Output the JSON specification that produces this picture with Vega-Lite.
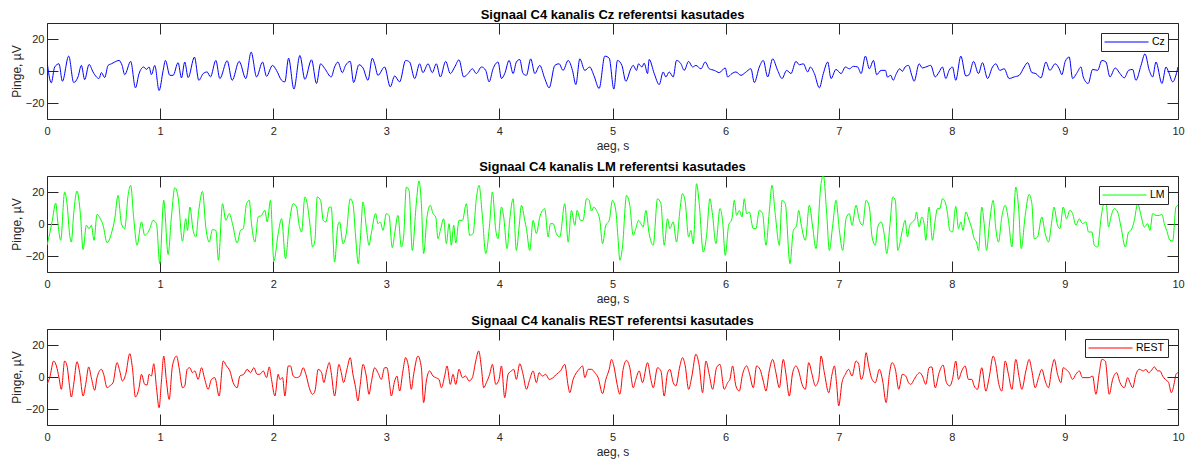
{
"$schema": "https://vega.github.io/schema/vega-lite/v6.json",
"padding": {"left": 9, "top": 8, "right": 5, "bottom": 5},
"datasets": {
"cz": [
{"t":0,"v":6.2},{"t":0.038,"v":-7.4},{"t":0.068,"v":2.5},{"t":0.106,"v":4.5},{"t":0.136,"v":-6.4},{"t":0.192,"v":9.3},{"t":0.236,"v":-7.2},{"t":0.274,"v":-3.7},{"t":0.304,"v":3.5},{"t":0.333,"v":-5.4},{"t":0.372,"v":4.1},{"t":0.407,"v":-0.6},{"t":0.437,"v":-3.7},{"t":0.46,"v":-4.7},{"t":0.481,"v":-1},{"t":0.51,"v":-4.1},{"t":0.54,"v":3.5},{"t":0.569,"v":4.5},{"t":0.599,"v":5.6},{"t":0.637,"v":6.6},{"t":0.664,"v":3.5},{"t":0.687,"v":-2.3},{"t":0.74,"v":6},{"t":0.782,"v":-10.5},{"t":0.814,"v":-1.6},{"t":0.855,"v":2.5},{"t":0.879,"v":1},{"t":0.903,"v":2.5},{"t":0.923,"v":-2.3},{"t":0.953,"v":3.5},{"t":0.991,"v":-12.2},
{"t":1.027,"v":0.4},{"t":1.047,"v":6.6},{"t":1.086,"v":-2.7},{"t":1.115,"v":-2.7},{"t":1.159,"v":5.2},{"t":1.189,"v":-4.3},{"t":1.218,"v":5.6},{"t":1.248,"v":-4.1},{"t":1.304,"v":8.7},{"t":1.342,"v":-5.8},{"t":1.381,"v":-1.6},{"t":1.416,"v":-0.6},{"t":1.445,"v":-3.7},{"t":1.493,"v":6.6},{"t":1.528,"v":-4.7},{"t":1.593,"v":6.4},{"t":1.637,"v":-5.8},{"t":1.699,"v":6},{"t":1.758,"v":-4.7},{"t":1.805,"v":11.8},{"t":1.853,"v":-3.7},{"t":1.906,"v":5.6},{"t":1.941,"v":-3.3},{"t":1.994,"v":3.5},
{"t":2.029,"v":0.4},{"t":2.074,"v":-5.8},{"t":2.103,"v":-6.8},{"t":2.136,"v":8},{"t":2.183,"v":-11.3},{"t":2.236,"v":9.7},{"t":2.28,"v":-5.2},{"t":2.339,"v":7},{"t":2.383,"v":-7.8},{"t":2.419,"v":4.5},{"t":2.457,"v":1.4},{"t":2.513,"v":-3.7},{"t":2.543,"v":2.5},{"t":2.572,"v":5.6},{"t":2.611,"v":-1},{"t":2.64,"v":3.5},{"t":2.681,"v":6},{"t":2.711,"v":-7.2},{"t":2.758,"v":3.9},{"t":2.794,"v":1.9},{"t":2.838,"v":-5.8},{"t":2.876,"v":8},{"t":2.897,"v":4.5},{"t":2.926,"v":-2.7},{"t":2.985,"v":2.5},
{"t":3.035,"v":-9.9},{"t":3.074,"v":-3.1},{"t":3.118,"v":-6.8},{"t":3.171,"v":6.6},{"t":3.206,"v":5.6},{"t":3.251,"v":-4.7},{"t":3.295,"v":4.5},{"t":3.324,"v":-1},{"t":3.369,"v":4.5},{"t":3.407,"v":-1},{"t":3.442,"v":4.5},{"t":3.478,"v":-3.7},{"t":3.525,"v":6},{"t":3.566,"v":-1.6},{"t":3.605,"v":2.5},{"t":3.643,"v":7},{"t":3.684,"v":-3.7},{"t":3.723,"v":-1.6},{"t":3.761,"v":1.4},{"t":3.796,"v":-1.6},{"t":3.841,"v":2.5},{"t":3.879,"v":0.4},{"t":3.909,"v":-6.8},{"t":3.944,"v":1.4},{"t":3.988,"v":5.6},
{"t":4.018,"v":-4.7},{"t":4.047,"v":-1.6},{"t":4.086,"v":6.6},{"t":4.121,"v":-1.6},{"t":4.15,"v":5.6},{"t":4.18,"v":7.2},{"t":4.209,"v":-1.6},{"t":4.239,"v":-2.7},{"t":4.277,"v":7.6},{"t":4.313,"v":-1.6},{"t":4.357,"v":3.5},{"t":4.401,"v":-4.7},{"t":4.44,"v":-10.5},{"t":4.49,"v":3.5},{"t":4.528,"v":4.5},{"t":4.563,"v":0.4},{"t":4.608,"v":6.6},{"t":4.646,"v":0.4},{"t":4.676,"v":-8.5},{"t":4.711,"v":7.6},{"t":4.755,"v":0.4},{"t":4.799,"v":2.5},{"t":4.835,"v":-2.7},{"t":4.882,"v":-10.9},{"t":4.932,"v":9.3},{"t":4.971,"v":8},
{"t":5.012,"v":-11.3},{"t":5.044,"v":6.6},{"t":5.083,"v":3.5},{"t":5.118,"v":-6.4},{"t":5.162,"v":1.4},{"t":5.183,"v":3.5},{"t":5.212,"v":0.4},{"t":5.23,"v":4.5},{"t":5.26,"v":2.5},{"t":5.28,"v":4.9},{"t":5.31,"v":-1.6},{"t":5.324,"v":7.2},{"t":5.369,"v":-1.6},{"t":5.413,"v":-8.5},{"t":5.448,"v":-0.6},{"t":5.472,"v":-3.7},{"t":5.501,"v":-0.6},{"t":5.537,"v":-3.7},{"t":5.566,"v":6.6},{"t":5.605,"v":4.5},{"t":5.634,"v":0.4},{"t":5.673,"v":6},{"t":5.708,"v":2.5},{"t":5.737,"v":3.5},{"t":5.782,"v":1.4},{"t":5.82,"v":5.6},{"t":5.855,"v":1.4},{"t":5.9,"v":0.4},{"t":5.944,"v":-1},{"t":5.997,"v":1.9},
{"t":6.018,"v":-3.7},{"t":6.056,"v":-1.6},{"t":6.091,"v":-0.6},{"t":6.136,"v":-2.7},{"t":6.174,"v":-1},{"t":6.224,"v":1.4},{"t":6.254,"v":-7.2},{"t":6.298,"v":2.5},{"t":6.333,"v":6.6},{"t":6.372,"v":-3.7},{"t":6.416,"v":7.6},{"t":6.46,"v":0.4},{"t":6.499,"v":-4.7},{"t":6.54,"v":0.4},{"t":6.578,"v":-1.6},{"t":6.622,"v":6},{"t":6.652,"v":3.9},{"t":6.687,"v":4.5},{"t":6.726,"v":-0.6},{"t":6.749,"v":2.5},{"t":6.785,"v":-1.6},{"t":6.829,"v":-10.5},{"t":6.864,"v":-1.6},{"t":6.903,"v":5.6},{"t":6.932,"v":-4.7},{"t":6.976,"v":1},
{"t":7.021,"v":-1.6},{"t":7.059,"v":2.5},{"t":7.094,"v":1.4},{"t":7.13,"v":2.9},{"t":7.168,"v":2.5},{"t":7.198,"v":-1.6},{"t":7.236,"v":9.3},{"t":7.271,"v":1.4},{"t":7.307,"v":6.6},{"t":7.336,"v":-2.3},{"t":7.375,"v":0.4},{"t":7.413,"v":0.4},{"t":7.431,"v":-3.8},{"t":7.46,"v":-2.7},{"t":7.481,"v":-5.8},{"t":7.51,"v":-1.6},{"t":7.54,"v":1.4},{"t":7.563,"v":-0.2},{"t":7.587,"v":2.5},{"t":7.617,"v":3.5},{"t":7.646,"v":-2.7},{"t":7.667,"v":-6.4},{"t":7.711,"v":4.5},{"t":7.74,"v":1.9},{"t":7.77,"v":2.5},{"t":7.814,"v":3.5},{"t":7.853,"v":-3.7},{"t":7.888,"v":-0.6},{"t":7.917,"v":2.5},{"t":7.947,"v":-4.7},{"t":7.976,"v":0.4},
{"t":8.006,"v":2.5},{"t":8.035,"v":-5.8},{"t":8.08,"v":9.3},{"t":8.124,"v":-3.1},{"t":8.153,"v":-2.3},{"t":8.192,"v":6},{"t":8.236,"v":-1.6},{"t":8.271,"v":5.2},{"t":8.316,"v":-4.7},{"t":8.36,"v":2.5},{"t":8.389,"v":4.5},{"t":8.425,"v":0.4},{"t":8.463,"v":1.4},{"t":8.507,"v":-4.7},{"t":8.552,"v":-3.7},{"t":8.596,"v":-2.7},{"t":8.64,"v":2.5},{"t":8.67,"v":5.2},{"t":8.708,"v":-1},{"t":8.743,"v":-1.6},{"t":8.788,"v":-4.3},{"t":8.832,"v":5.6},{"t":8.867,"v":0.4},{"t":8.914,"v":4.5},{"t":8.95,"v":1.4},{"t":8.973,"v":-2.3},
{"t":9.003,"v":6},{"t":9.038,"v":8.7},{"t":9.068,"v":-4.7},{"t":9.103,"v":-1.6},{"t":9.142,"v":2.5},{"t":9.162,"v":-3.7},{"t":9.206,"v":-7.8},{"t":9.245,"v":1},{"t":9.289,"v":0.4},{"t":9.327,"v":6.6},{"t":9.363,"v":5.6},{"t":9.398,"v":-3.7},{"t":9.445,"v":1.9},{"t":9.487,"v":-1.6},{"t":9.525,"v":-4.3},{"t":9.563,"v":0.4},{"t":9.599,"v":1},{"t":9.628,"v":-5.8},{"t":9.673,"v":3.5},{"t":9.708,"v":10.7},{"t":9.746,"v":0.4},{"t":9.776,"v":-3.7},{"t":9.805,"v":5.6},{"t":9.858,"v":-7.8},{"t":9.894,"v":2.5},{"t":9.917,"v":-0.6},{"t":9.953,"v":-6.8},{"t":10,"v":2.5}
],
"lm": [
{"t":0,"v":-13.3},{"t":0.024,"v":-6},{"t":0.047,"v":2.3},{"t":0.077,"v":13.1},{"t":0.097,"v":0.2},{"t":0.121,"v":-10.2},{"t":0.156,"v":20},{"t":0.177,"v":12.7},{"t":0.201,"v":-7.1},{"t":0.215,"v":-11.3},{"t":0.236,"v":6.5},{"t":0.265,"v":20.6},{"t":0.295,"v":6.5},{"t":0.319,"v":-16},{"t":0.348,"v":-0.8},{"t":0.372,"v":-2.9},{"t":0.392,"v":-0.8},{"t":0.416,"v":-10.2},{"t":0.442,"v":6},{"t":0.472,"v":3.3},{"t":0.496,"v":-0.8},{"t":0.531,"v":-11.7},{"t":0.569,"v":-6},{"t":0.599,"v":3.3},{"t":0.628,"v":17.9},{"t":0.658,"v":0.2},{"t":0.687,"v":-2.9},{"t":0.717,"v":17.9},{"t":0.74,"v":24.2},{"t":0.767,"v":3.3},{"t":0.796,"v":-13.3},{"t":0.835,"v":1.3},{"t":0.864,"v":-7.1},{"t":0.885,"v":-6},{"t":0.909,"v":-2.9},{"t":0.938,"v":2.3},{"t":0.968,"v":0.2},{"t":0.997,"v":-24.8},
{"t":1.032,"v":14.8},{"t":1.071,"v":-19},{"t":1.1,"v":4.4},{"t":1.13,"v":22.7},{"t":1.159,"v":16.9},{"t":1.198,"v":-10.8},{"t":1.227,"v":3.3},{"t":1.242,"v":-4},{"t":1.263,"v":10.6},{"t":1.292,"v":-4},{"t":1.316,"v":-8.1},{"t":1.342,"v":8.5},{"t":1.375,"v":20.4},{"t":1.404,"v":-1.9},{"t":1.434,"v":-11.3},{"t":1.463,"v":-3.5},{"t":1.493,"v":-4},{"t":1.516,"v":-22.7},{"t":1.552,"v":12.7},{"t":1.581,"v":2.3},{"t":1.611,"v":6.5},{"t":1.64,"v":0.2},{"t":1.681,"v":-11.9},{"t":1.711,"v":-4},{"t":1.735,"v":-2.9},{"t":1.764,"v":12.7},{"t":1.788,"v":14.8},{"t":1.808,"v":0.2},{"t":1.838,"v":-11.3},{"t":1.867,"v":4.4},{"t":1.897,"v":5.4},{"t":1.926,"v":8.5},{"t":1.947,"v":1.3},{"t":1.976,"v":14.8},
{"t":2.006,"v":-23.1},{"t":2.044,"v":-6},{"t":2.074,"v":3.3},{"t":2.109,"v":-21.7},{"t":2.142,"v":0.2},{"t":2.177,"v":12.7},{"t":2.206,"v":10.6},{"t":2.23,"v":-0.8},{"t":2.251,"v":-5},{"t":2.28,"v":16.9},{"t":2.301,"v":12.7},{"t":2.324,"v":0.2},{"t":2.348,"v":-14.4},{"t":2.369,"v":-10.2},{"t":2.389,"v":16.9},{"t":2.419,"v":14.8},{"t":2.442,"v":2.3},{"t":2.466,"v":1.3},{"t":2.496,"v":10.6},{"t":2.513,"v":10.6},{"t":2.543,"v":-23.8},{"t":2.572,"v":-0.8},{"t":2.587,"v":1.3},{"t":2.617,"v":-12.3},{"t":2.646,"v":-6},{"t":2.681,"v":15.8},{"t":2.705,"v":12.7},{"t":2.729,"v":-8.1},{"t":2.752,"v":-24.8},{"t":2.77,"v":-10.2},{"t":2.794,"v":13.8},{"t":2.823,"v":-1.9},{"t":2.847,"v":-13.3},{"t":2.867,"v":-6},{"t":2.906,"v":6.5},{"t":2.926,"v":0.2},{"t":2.947,"v":1.3},{"t":2.971,"v":-4},
{"t":3,"v":6.5},{"t":3.024,"v":5.4},{"t":3.053,"v":-14.8},{"t":3.074,"v":-6},{"t":3.103,"v":5.4},{"t":3.133,"v":-14.4},{"t":3.153,"v":-8.1},{"t":3.177,"v":23.1},{"t":3.201,"v":21},{"t":3.23,"v":-16.5},{"t":3.265,"v":12.7},{"t":3.289,"v":26.9},{"t":3.31,"v":12.7},{"t":3.33,"v":-18.5},{"t":3.36,"v":4.4},{"t":3.389,"v":11.7},{"t":3.413,"v":6.5},{"t":3.437,"v":4.4},{"t":3.457,"v":-9.2},{"t":3.478,"v":-4},{"t":3.507,"v":3.3},{"t":3.531,"v":-12.3},{"t":3.555,"v":0.2},{"t":3.575,"v":-13.3},{"t":3.596,"v":-0.8},{"t":3.614,"v":-11.9},{"t":3.643,"v":2.3},{"t":3.673,"v":2.3},{"t":3.708,"v":12.7},{"t":3.737,"v":-7.1},{"t":3.767,"v":-6},{"t":3.796,"v":15.8},{"t":3.82,"v":24.2},{"t":3.85,"v":4.4},{"t":3.879,"v":-18.5},{"t":3.914,"v":0.2},{"t":3.938,"v":20},{"t":3.968,"v":-4},{"t":3.988,"v":-9.2},
{"t":4.018,"v":10.6},{"t":4.038,"v":4.4},{"t":4.068,"v":-15.4},{"t":4.091,"v":2.3},{"t":4.121,"v":15.8},{"t":4.15,"v":-16.5},{"t":4.174,"v":-1.9},{"t":4.195,"v":11.7},{"t":4.224,"v":2.3},{"t":4.239,"v":-2.9},{"t":4.268,"v":-16.5},{"t":4.298,"v":2.3},{"t":4.327,"v":-6},{"t":4.357,"v":4.4},{"t":4.401,"v":9.6},{"t":4.431,"v":-8.1},{"t":4.451,"v":0.2},{"t":4.475,"v":0.2},{"t":4.504,"v":-6},{"t":4.534,"v":-8.1},{"t":4.578,"v":12.7},{"t":4.608,"v":-11.3},{"t":4.637,"v":8.5},{"t":4.667,"v":-0.8},{"t":4.687,"v":8.5},{"t":4.717,"v":2.3},{"t":4.74,"v":2.3},{"t":4.77,"v":15.8},{"t":4.794,"v":14.8},{"t":4.814,"v":8.1},{"t":4.835,"v":10.6},{"t":4.858,"v":8.5},{"t":4.888,"v":2.3},{"t":4.912,"v":-12.3},{"t":4.941,"v":-0.8},{"t":4.971,"v":2.3},
{"t":5,"v":14.8},{"t":5.029,"v":8.5},{"t":5.05,"v":-10.2},{"t":5.065,"v":-22.7},{"t":5.088,"v":-14.4},{"t":5.124,"v":17.9},{"t":5.153,"v":11.7},{"t":5.183,"v":-7.1},{"t":5.206,"v":-2.9},{"t":5.23,"v":2.3},{"t":5.251,"v":0.2},{"t":5.271,"v":-1.9},{"t":5.295,"v":8.5},{"t":5.324,"v":-6},{"t":5.36,"v":-13.3},{"t":5.398,"v":15.8},{"t":5.428,"v":12.7},{"t":5.457,"v":-13.3},{"t":5.487,"v":3.3},{"t":5.507,"v":-2.9},{"t":5.537,"v":1.3},{"t":5.566,"v":-11.3},{"t":5.596,"v":8.5},{"t":5.619,"v":19},{"t":5.643,"v":13.8},{"t":5.673,"v":-8.1},{"t":5.693,"v":-4},{"t":5.714,"v":-12.3},{"t":5.743,"v":25.2},{"t":5.767,"v":12.7},{"t":5.802,"v":-17.5},{"t":5.832,"v":-7.1},{"t":5.861,"v":15.8},{"t":5.885,"v":5.4},{"t":5.914,"v":-12.3},{"t":5.95,"v":9.6},{"t":5.973,"v":2.3},{"t":5.997,"v":-19.6},
{"t":6.027,"v":-0.8},{"t":6.056,"v":3.3},{"t":6.077,"v":14.8},{"t":6.097,"v":5.4},{"t":6.121,"v":8.5},{"t":6.145,"v":4.4},{"t":6.165,"v":15.8},{"t":6.186,"v":6.5},{"t":6.209,"v":7.5},{"t":6.245,"v":-2.9},{"t":6.268,"v":-2.9},{"t":6.298,"v":8.5},{"t":6.327,"v":6.5},{"t":6.357,"v":-13.3},{"t":6.386,"v":7.5},{"t":6.41,"v":24.2},{"t":6.44,"v":5.4},{"t":6.475,"v":-13.3},{"t":6.499,"v":14.8},{"t":6.528,"v":12.7},{"t":6.569,"v":-24.8},{"t":6.599,"v":-4},{"t":6.628,"v":-0.8},{"t":6.646,"v":8.5},{"t":6.667,"v":0.2},{"t":6.705,"v":-10.2},{"t":6.74,"v":11.7},{"t":6.77,"v":-1.9},{"t":6.799,"v":-15.4},{"t":6.844,"v":25.2},{"t":6.864,"v":30.4},{"t":6.894,"v":6.5},{"t":6.917,"v":-16.5},{"t":6.947,"v":-0.8},{"t":6.976,"v":14.8},
{"t":7.006,"v":-4},{"t":7.035,"v":-16.5},{"t":7.065,"v":3.3},{"t":7.094,"v":6.5},{"t":7.118,"v":-0.8},{"t":7.153,"v":11.7},{"t":7.183,"v":2.3},{"t":7.212,"v":-0.8},{"t":7.242,"v":14.8},{"t":7.271,"v":10.6},{"t":7.295,"v":-8.1},{"t":7.324,"v":-13.3},{"t":7.345,"v":-1.9},{"t":7.375,"v":1.3},{"t":7.404,"v":-7.1},{"t":7.425,"v":-18.5},{"t":7.454,"v":0.2},{"t":7.478,"v":16.9},{"t":7.501,"v":14.8},{"t":7.522,"v":-16.5},{"t":7.563,"v":-4},{"t":7.587,"v":2.3},{"t":7.608,"v":-8.1},{"t":7.628,"v":-0.8},{"t":7.652,"v":1.3},{"t":7.676,"v":3.3},{"t":7.687,"v":7.5},{"t":7.711,"v":-1.9},{"t":7.735,"v":4.4},{"t":7.755,"v":0.2},{"t":7.77,"v":-10.2},{"t":7.799,"v":10.6},{"t":7.829,"v":-10.2},{"t":7.853,"v":2.3},{"t":7.873,"v":9.6},{"t":7.894,"v":9.6},{"t":7.917,"v":15.8},{"t":7.941,"v":13.8},{"t":7.962,"v":6.5},{"t":7.982,"v":-4},
{"t":8.006,"v":-5},{"t":8.035,"v":11},{"t":8.059,"v":-2.9},{"t":8.08,"v":1.3},{"t":8.1,"v":-4},{"t":8.124,"v":7.5},{"t":8.153,"v":2.3},{"t":8.177,"v":-2.9},{"t":8.198,"v":-9.2},{"t":8.218,"v":-11.3},{"t":8.236,"v":-16.5},{"t":8.265,"v":10.6},{"t":8.286,"v":0.2},{"t":8.307,"v":-16.5},{"t":8.336,"v":2.3},{"t":8.366,"v":14.8},{"t":8.389,"v":-2.9},{"t":8.413,"v":-11.3},{"t":8.442,"v":4.4},{"t":8.472,"v":11.7},{"t":8.501,"v":2.3},{"t":8.531,"v":-14.4},{"t":8.566,"v":23.1},{"t":8.59,"v":10.6},{"t":8.614,"v":-15.4},{"t":8.649,"v":5.4},{"t":8.684,"v":18.5},{"t":8.708,"v":12.7},{"t":8.729,"v":-9.2},{"t":8.758,"v":-8.1},{"t":8.796,"v":4.4},{"t":8.826,"v":-6},{"t":8.855,"v":-11.3},{"t":8.885,"v":2.3},{"t":8.903,"v":10.6},{"t":8.935,"v":-0.8},{"t":8.956,"v":-2.9},{"t":8.985,"v":10.6},
{"t":9.015,"v":3.3},{"t":9.044,"v":8.5},{"t":9.068,"v":6.5},{"t":9.097,"v":-0.8},{"t":9.127,"v":3.3},{"t":9.156,"v":0.2},{"t":9.186,"v":1.3},{"t":9.209,"v":-5},{"t":9.239,"v":-5},{"t":9.26,"v":-13.3},{"t":9.289,"v":-14.4},{"t":9.319,"v":3.3},{"t":9.339,"v":11.7},{"t":9.363,"v":13.8},{"t":9.386,"v":-1.9},{"t":9.407,"v":4.4},{"t":9.437,"v":9.6},{"t":9.466,"v":7.5},{"t":9.496,"v":-1.9},{"t":9.534,"v":-14.4},{"t":9.563,"v":-5},{"t":9.584,"v":-4},{"t":9.614,"v":2.3},{"t":9.643,"v":12.7},{"t":9.673,"v":5.4},{"t":9.702,"v":-1.9},{"t":9.732,"v":0.2},{"t":9.752,"v":-4},{"t":9.776,"v":6.5},{"t":9.805,"v":5.4},{"t":9.835,"v":5.4},{"t":9.858,"v":6},{"t":9.879,"v":0.2},{"t":9.9,"v":-4},{"t":9.929,"v":-10.2},{"t":9.953,"v":-10.6},{"t":9.982,"v":10.6},{"t":10,"v":11.7}
],
"rest": [
{"t":0,"v":-4.6},{"t":0.024,"v":-0.4},{"t":0.059,"v":10},{"t":0.083,"v":6.9},{"t":0.106,"v":-0.4},{"t":0.127,"v":-7.7},{"t":0.156,"v":10},{"t":0.177,"v":6.9},{"t":0.201,"v":-6.7},{"t":0.215,"v":-12.5},{"t":0.236,"v":-4.6},{"t":0.265,"v":9.6},{"t":0.289,"v":2.7},{"t":0.319,"v":-11.9},{"t":0.342,"v":-4.6},{"t":0.369,"v":6.3},{"t":0.392,"v":-0.4},{"t":0.422,"v":-8.3},{"t":0.442,"v":-0.4},{"t":0.481,"v":4.8},{"t":0.501,"v":1.7},{"t":0.531,"v":-6.7},{"t":0.555,"v":-5.6},{"t":0.584,"v":-3.5},{"t":0.619,"v":9},{"t":0.643,"v":3.8},{"t":0.667,"v":-2.5},{"t":0.696,"v":1.7},{"t":0.732,"v":14.6},{"t":0.755,"v":5.8},{"t":0.782,"v":-12.5},{"t":0.814,"v":-6.7},{"t":0.835,"v":1.7},{"t":0.864,"v":-4.6},{"t":0.885,"v":-5},{"t":0.903,"v":1.7},{"t":0.923,"v":0.6},{"t":0.944,"v":8.3},{"t":0.968,"v":-6.7},{"t":0.991,"v":-19.2},
{"t":1.012,"v":-2.5},{"t":1.032,"v":13.1},{"t":1.056,"v":-2.5},{"t":1.08,"v":-14},{"t":1.109,"v":6.9},{"t":1.145,"v":13.1},{"t":1.168,"v":5.8},{"t":1.198,"v":-6.7},{"t":1.218,"v":-5.6},{"t":1.239,"v":4.8},{"t":1.263,"v":5.8},{"t":1.286,"v":2.7},{"t":1.307,"v":3.8},{"t":1.336,"v":-1.5},{"t":1.366,"v":5.8},{"t":1.395,"v":-1.5},{"t":1.425,"v":-7.7},{"t":1.454,"v":-1.5},{"t":1.484,"v":-0.4},{"t":1.522,"v":-11.9},{"t":1.558,"v":10},{"t":1.587,"v":6.9},{"t":1.617,"v":3.8},{"t":1.646,"v":-3.5},{"t":1.681,"v":-6.7},{"t":1.705,"v":0.6},{"t":1.74,"v":1.7},{"t":1.77,"v":4.8},{"t":1.799,"v":2.7},{"t":1.829,"v":5.8},{"t":1.858,"v":1.7},{"t":1.882,"v":1.7},{"t":1.912,"v":3.8},{"t":1.941,"v":-0.4},{"t":1.965,"v":6.3},{"t":1.985,"v":-1.5},
{"t":2.015,"v":-11.9},{"t":2.044,"v":1.7},{"t":2.059,"v":-1.5},{"t":2.083,"v":-0.4},{"t":2.103,"v":-11.9},{"t":2.133,"v":6.9},{"t":2.153,"v":6.9},{"t":2.177,"v":0.6},{"t":2.206,"v":-0.4},{"t":2.236,"v":0.6},{"t":2.265,"v":5.8},{"t":2.289,"v":1.7},{"t":2.319,"v":-6.7},{"t":2.348,"v":-10.8},{"t":2.369,"v":-8.8},{"t":2.398,"v":4.8},{"t":2.428,"v":2.7},{"t":2.448,"v":-3.5},{"t":2.472,"v":3.8},{"t":2.496,"v":9},{"t":2.513,"v":2.7},{"t":2.543,"v":-11.9},{"t":2.581,"v":7.9},{"t":2.602,"v":2.7},{"t":2.622,"v":-3.5},{"t":2.652,"v":4.8},{"t":2.681,"v":12.1},{"t":2.705,"v":1.7},{"t":2.729,"v":-6.7},{"t":2.749,"v":-15},{"t":2.77,"v":-4.6},{"t":2.794,"v":7.9},{"t":2.823,"v":0.6},{"t":2.847,"v":-10.8},{"t":2.867,"v":-3.5},{"t":2.897,"v":5.8},{"t":2.926,"v":2.7},{"t":2.956,"v":-1.5},{"t":2.985,"v":5.8},
{"t":3.006,"v":5.8},{"t":3.029,"v":-4.6},{"t":3.044,"v":-11.9},{"t":3.074,"v":-2.5},{"t":3.094,"v":0.6},{"t":3.118,"v":-8.8},{"t":3.147,"v":3.8},{"t":3.171,"v":12.1},{"t":3.195,"v":6.9},{"t":3.221,"v":-7.7},{"t":3.242,"v":1.7},{"t":3.28,"v":13.1},{"t":3.31,"v":5.8},{"t":3.33,"v":-16},{"t":3.354,"v":-2.5},{"t":3.383,"v":3.8},{"t":3.413,"v":0.6},{"t":3.437,"v":-0.4},{"t":3.466,"v":-1.5},{"t":3.487,"v":-6.7},{"t":3.516,"v":0.6},{"t":3.537,"v":6.9},{"t":3.566,"v":-4.6},{"t":3.59,"v":1.7},{"t":3.614,"v":-4.6},{"t":3.643,"v":4.8},{"t":3.673,"v":-0.4},{"t":3.702,"v":0.6},{"t":3.732,"v":-2.5},{"t":3.761,"v":-0.4},{"t":3.791,"v":10},{"t":3.817,"v":16.3},{"t":3.841,"v":5.8},{"t":3.861,"v":-6.7},{"t":3.885,"v":-3.5},{"t":3.914,"v":1.7},{"t":3.938,"v":7.9},{"t":3.968,"v":-4.6},{"t":3.997,"v":-1.5},
{"t":4.018,"v":6.9},{"t":4.047,"v":-12.9},{"t":4.077,"v":1.7},{"t":4.106,"v":3.8},{"t":4.127,"v":4.8},{"t":4.15,"v":-1.5},{"t":4.18,"v":8.3},{"t":4.209,"v":1.7},{"t":4.239,"v":-7.7},{"t":4.268,"v":-1.5},{"t":4.298,"v":3.8},{"t":4.327,"v":-3.5},{"t":4.351,"v":2.7},{"t":4.381,"v":0.6},{"t":4.41,"v":1.7},{"t":4.44,"v":-1.5},{"t":4.475,"v":-0.4},{"t":4.504,"v":1.7},{"t":4.54,"v":3.8},{"t":4.578,"v":7.9},{"t":4.608,"v":-5.6},{"t":4.622,"v":-9.8},{"t":4.652,"v":-1.5},{"t":4.681,"v":2.7},{"t":4.705,"v":4.8},{"t":4.735,"v":6.9},{"t":4.755,"v":-0.4},{"t":4.785,"v":4.8},{"t":4.814,"v":4.8},{"t":4.844,"v":2.7},{"t":4.873,"v":-0.4},{"t":4.912,"v":-10.4},{"t":4.941,"v":-1.5},{"t":4.971,"v":4.8},{"t":4.991,"v":11},
{"t":5.012,"v":6.9},{"t":5.041,"v":-4.6},{"t":5.065,"v":-10.8},{"t":5.094,"v":4.8},{"t":5.124,"v":10.4},{"t":5.153,"v":5.8},{"t":5.183,"v":-6.7},{"t":5.206,"v":-1.5},{"t":5.236,"v":3.8},{"t":5.265,"v":-3.5},{"t":5.31,"v":9},{"t":5.339,"v":-1.5},{"t":5.36,"v":-6.7},{"t":5.398,"v":5.8},{"t":5.428,"v":3.8},{"t":5.457,"v":-11.9},{"t":5.487,"v":2.7},{"t":5.507,"v":4.8},{"t":5.537,"v":-3.5},{"t":5.56,"v":-5.6},{"t":5.596,"v":6.9},{"t":5.619,"v":12.1},{"t":5.643,"v":6.9},{"t":5.673,"v":-7.7},{"t":5.702,"v":0.6},{"t":5.737,"v":14.2},{"t":5.767,"v":6.9},{"t":5.796,"v":-9.8},{"t":5.826,"v":10},{"t":5.855,"v":1.7},{"t":5.885,"v":-7.7},{"t":5.92,"v":5.8},{"t":5.95,"v":7.9},{"t":5.988,"v":-7.7},
{"t":6.018,"v":-3.5},{"t":6.038,"v":-1.5},{"t":6.062,"v":6.9},{"t":6.091,"v":-5.6},{"t":6.121,"v":-8.8},{"t":6.15,"v":1.7},{"t":6.186,"v":6.9},{"t":6.209,"v":2.7},{"t":6.245,"v":-6.7},{"t":6.274,"v":6.9},{"t":6.304,"v":4.8},{"t":6.333,"v":-2.5},{"t":6.357,"v":-8.8},{"t":6.386,"v":3.8},{"t":6.416,"v":11},{"t":6.445,"v":2.7},{"t":6.475,"v":-6.7},{"t":6.51,"v":11},{"t":6.534,"v":1.7},{"t":6.563,"v":-11.9},{"t":6.593,"v":2.7},{"t":6.622,"v":6.9},{"t":6.646,"v":3.8},{"t":6.676,"v":-4.6},{"t":6.705,"v":-7.7},{"t":6.735,"v":9},{"t":6.764,"v":1.7},{"t":6.794,"v":-5.6},{"t":6.823,"v":-1.5},{"t":6.844,"v":13.1},{"t":6.873,"v":2.7},{"t":6.912,"v":-9.8},{"t":6.941,"v":1.7},{"t":6.962,"v":6.9},{"t":6.982,"v":-4.6},
{"t":7,"v":-18.1},{"t":7.029,"v":-3.5},{"t":7.059,"v":1.7},{"t":7.088,"v":4.8},{"t":7.118,"v":0.6},{"t":7.153,"v":10},{"t":7.177,"v":7.9},{"t":7.198,"v":-1.5},{"t":7.218,"v":1.7},{"t":7.242,"v":15.2},{"t":7.265,"v":6.9},{"t":7.295,"v":-1.5},{"t":7.324,"v":-3.5},{"t":7.36,"v":4.8},{"t":7.389,"v":-2.5},{"t":7.419,"v":-16},{"t":7.448,"v":1.7},{"t":7.472,"v":9},{"t":7.501,"v":4.8},{"t":7.531,"v":-7.7},{"t":7.563,"v":1.7},{"t":7.593,"v":0.6},{"t":7.617,"v":-3.5},{"t":7.637,"v":-4.6},{"t":7.667,"v":-1.5},{"t":7.696,"v":1.7},{"t":7.717,"v":2.7},{"t":7.74,"v":0.6},{"t":7.77,"v":-4.6},{"t":7.799,"v":5.8},{"t":7.823,"v":6.3},{"t":7.853,"v":-6.7},{"t":7.888,"v":2.7},{"t":7.923,"v":7.5},{"t":7.953,"v":-3.5},{"t":7.982,"v":-5.6},
{"t":8.006,"v":-1.5},{"t":8.035,"v":10},{"t":8.059,"v":-1.5},{"t":8.088,"v":3.8},{"t":8.118,"v":6.9},{"t":8.147,"v":-1.5},{"t":8.177,"v":-1.5},{"t":8.198,"v":-5.6},{"t":8.227,"v":-7.7},{"t":8.265,"v":5.8},{"t":8.301,"v":-8.8},{"t":8.33,"v":-0.4},{"t":8.366,"v":13.1},{"t":8.389,"v":7.9},{"t":8.413,"v":-3.5},{"t":8.442,"v":-8.8},{"t":8.472,"v":10},{"t":8.501,"v":1.7},{"t":8.531,"v":-7.7},{"t":8.566,"v":11},{"t":8.596,"v":-0.4},{"t":8.619,"v":-7.7},{"t":8.655,"v":3.8},{"t":8.684,"v":11},{"t":8.708,"v":3.8},{"t":8.737,"v":-6.7},{"t":8.767,"v":-0.4},{"t":8.796,"v":4.8},{"t":8.826,"v":-2.5},{"t":8.855,"v":-6.7},{"t":8.885,"v":5.8},{"t":8.906,"v":11},{"t":8.935,"v":1.7},{"t":8.965,"v":-3.5},{"t":8.985,"v":5.8},
{"t":9.009,"v":4.8},{"t":9.038,"v":2.7},{"t":9.068,"v":-1.5},{"t":9.097,"v":1.7},{"t":9.127,"v":3.8},{"t":9.156,"v":-0.4},{"t":9.186,"v":-0.4},{"t":9.215,"v":-0.4},{"t":9.245,"v":0.6},{"t":9.274,"v":-10.8},{"t":9.304,"v":2.7},{"t":9.327,"v":11},{"t":9.357,"v":10},{"t":9.392,"v":-10.8},{"t":9.422,"v":-1.5},{"t":9.457,"v":2.7},{"t":9.487,"v":-3.5},{"t":9.525,"v":-6.7},{"t":9.555,"v":-0.4},{"t":9.575,"v":-3.5},{"t":9.599,"v":-6.7},{"t":9.628,"v":1.7},{"t":9.658,"v":4.8},{"t":9.693,"v":3.8},{"t":9.717,"v":4.8},{"t":9.74,"v":2.7},{"t":9.761,"v":3.8},{"t":9.791,"v":6.3},{"t":9.82,"v":3.8},{"t":9.841,"v":3.8},{"t":9.864,"v":0.6},{"t":9.888,"v":-1.5},{"t":9.917,"v":-3.5},{"t":9.941,"v":-9.8},{"t":9.968,"v":-3.5},{"t":9.982,"v":1.7},{"t":10,"v":2.7}
]
},
"config": {
  "font": "Liberation Sans",
  "view": {"stroke": "#262626", "strokeWidth": 1},
  "axis": {"grid": false, "domain": false, "tickColor": "#262626", "tickSize": -11, "tickWidth": 1, "labelColor": "#262626", "titleColor": "#262626", "labelFontSize": 11, "titleFontSize": 12, "titleFontWeight": "normal", "labelFlush": false, "labelOverlap": false, "labelBound": false},
  "axisX": {"labelPadding": 17, "titlePadding": 4},
  "axisY": {"labelPadding": 14, "titlePadding": 2},
  "title": {"fontSize": 13, "fontWeight": "bold", "color": "#000000", "frame": "group", "offset": 1},
  "legend": {"orient": "top-right", "offset": 10, "strokeColor": "#262626", "fillColor": "#ffffff", "padding": 3, "labelFontSize": 10.5, "labelColor": "#000000", "symbolType": "M-1,0H7", "symbolSize": 121, "symbolStrokeWidth": 1, "labelOffset": 36, "cornerRadius": 0}
},
"vconcat": [
{
 "width": 1131, "height": 96,
 "title": {"text": "Signaal C4 kanalis Cz referentsi kasutades"},
 "data": {"name": "cz"},
 "layer": [
  {"mark": {"type": "line", "strokeWidth": 1, "clip": true, "interpolate": "monotone"},
   "encoding": {
    "x": {"field": "t", "type": "quantitative", "scale": {"domain": [0, 10], "nice": false}, "axis": {"orient": "bottom", "title": "aeg, s", "values": [0,1,2,3,4,5,6,7,8,9,10]}},
    "y": {"field": "v", "type": "quantitative", "scale": {"domain": [-30, 30], "nice": false}, "axis": {"orient": "left", "title": "Pinge, µV", "values": [-20,0,20]}},
    "color": {"datum": "Cz", "type": "nominal", "scale": {"range": ["#0000ff"]}, "legend": {"title": null}}
   }},
  {"mark": {"type": "line", "opacity": 0},
   "encoding": {
    "x": {"field": "t", "type": "quantitative", "axis": {"orient": "top", "labels": false, "title": null, "values": [0,1,2,3,4,5,6,7,8,9,10]}},
    "y": {"field": "v", "type": "quantitative", "axis": {"orient": "right", "labels": false, "title": null, "values": [-20,0,20]}}
   }}
 ],
 "resolve": {"axis": {"x": "independent", "y": "independent"}}
},
{
 "width": 1131, "height": 96,
 "title": {"text": "Signaal C4 kanalis LM referentsi kasutades"},
 "data": {"name": "lm"},
 "layer": [
  {"mark": {"type": "line", "strokeWidth": 1, "clip": true, "interpolate": "monotone"},
   "encoding": {
    "x": {"field": "t", "type": "quantitative", "scale": {"domain": [0, 10], "nice": false}, "axis": {"orient": "bottom", "title": "aeg, s", "values": [0,1,2,3,4,5,6,7,8,9,10]}},
    "y": {"field": "v", "type": "quantitative", "scale": {"domain": [-30, 30], "nice": false}, "axis": {"orient": "left", "title": "Pinge, µV", "values": [-20,0,20]}},
    "color": {"datum": "LM", "type": "nominal", "scale": {"range": ["#00ff00"]}, "legend": {"title": null}}
   }},
  {"mark": {"type": "line", "opacity": 0},
   "encoding": {
    "x": {"field": "t", "type": "quantitative", "axis": {"orient": "top", "labels": false, "title": null, "values": [0,1,2,3,4,5,6,7,8,9,10]}},
    "y": {"field": "v", "type": "quantitative", "axis": {"orient": "right", "labels": false, "title": null, "values": [-20,0,20]}}
   }}
 ],
 "resolve": {"axis": {"x": "independent", "y": "independent"}}
},
{
 "width": 1131, "height": 96,
 "title": {"text": "Signaal C4 kanalis REST referentsi kasutades"},
 "data": {"name": "rest"},
 "layer": [
  {"mark": {"type": "line", "strokeWidth": 1, "clip": true, "interpolate": "monotone"},
   "encoding": {
    "x": {"field": "t", "type": "quantitative", "scale": {"domain": [0, 10], "nice": false}, "axis": {"orient": "bottom", "title": "aeg, s", "values": [0,1,2,3,4,5,6,7,8,9,10]}},
    "y": {"field": "v", "type": "quantitative", "scale": {"domain": [-30, 30], "nice": false}, "axis": {"orient": "left", "title": "Pinge, µV", "values": [-20,0,20]}},
    "color": {"datum": "REST", "type": "nominal", "scale": {"range": ["#ff0000"]}, "legend": {"title": null}}
   }},
  {"mark": {"type": "line", "opacity": 0},
   "encoding": {
    "x": {"field": "t", "type": "quantitative", "axis": {"orient": "top", "labels": false, "title": null, "values": [0,1,2,3,4,5,6,7,8,9,10]}},
    "y": {"field": "v", "type": "quantitative", "axis": {"orient": "right", "labels": false, "title": null, "values": [-20,0,20]}}
   }}
 ],
 "resolve": {"axis": {"x": "independent", "y": "independent"}}
}
],
"spacing": 57,
"bounds": "flush",
"resolve": {"scale": {"color": "independent"}}
}
